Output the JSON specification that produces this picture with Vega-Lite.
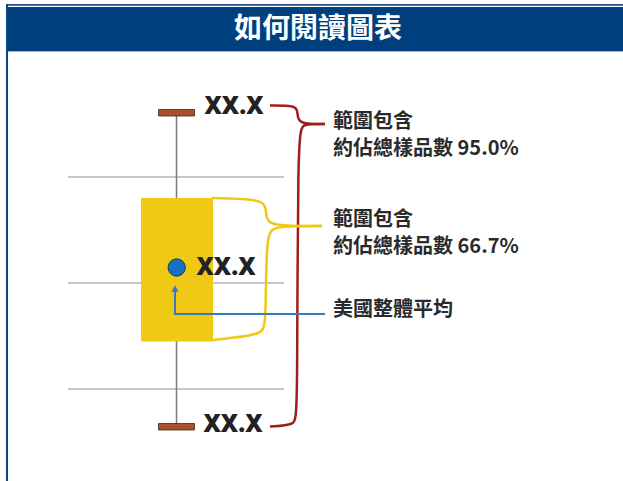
{
  "$schema": "https://vega.github.io/schema/vega-lite/v6.json",
  "width": 623,
  "height": 481,
  "autosize": {"type": "fit", "contains": "padding"},
  "padding": 0,
  "background": "white",
  "config": {"view": {"stroke": null}},
  "encoding": {
    "x": {"field": "x", "type": "quantitative", "scale": {"domain": [0, 623], "nice": false, "zero": false}, "axis": null},
    "y": {"field": "y", "type": "quantitative", "scale": {"domain": [0, 481], "nice": false, "zero": false, "reverse": true}, "axis": null}
  },
  "layer": [
    {
      "data": {"values": [{"part": "stripe", "x": 6, "x2": 623, "y": 4, "y2": 5.8}]},
      "mark": {"type": "rect", "fill": "#1f4f86"},
      "encoding": {"x2": {"field": "x2"}, "y2": {"field": "y2"}}
    },
    {
      "data": {"values": [{"part": "band", "x": 6, "x2": 623, "y": 7, "y2": 51}]},
      "mark": {"type": "rect", "fill": "#003f7d"},
      "encoding": {"x2": {"field": "x2"}, "y2": {"field": "y2"}}
    },
    {
      "data": {"values": [{"part": "bandedge", "x": 6, "x2": 623, "y": 51, "y2": 52}]},
      "mark": {"type": "rect", "fill": "#9fb6d6"},
      "encoding": {"x2": {"field": "x2"}, "y2": {"field": "y2"}}
    },
    {
      "data": {"values": [{"part": "border", "x": 6, "x2": 8, "y": 4, "y2": 481}]},
      "mark": {"type": "rect", "fill": "#0a4582"},
      "encoding": {"x2": {"field": "x2"}, "y2": {"field": "y2"}}
    },
    {
      "data": {"values": [{"label": "如何閱讀圖表", "x": 318, "y": 29.5}]},
      "mark": {"type": "text", "font": "Noto Sans CJK TC", "fontWeight": "bold", "fontSize": 28, "color": "white", "align": "center", "baseline": "middle"},
      "encoding": {"text": {"field": "label"}}
    },
    {
      "data": {"values": [
        {"x": 68, "x2": 284, "y": 177},
        {"x": 68, "x2": 284, "y": 283},
        {"x": 68, "x2": 284, "y": 389}
      ]},
      "mark": {"type": "rule", "color": "#b3b3b3", "strokeWidth": 1.5},
      "encoding": {"x2": {"field": "x2"}}
    },
    {
      "data": {"values": [{"x": 176.5, "y": 112, "y2": 426}]},
      "mark": {"type": "rule", "color": "#7a7a7a", "strokeWidth": 1.5},
      "encoding": {"y2": {"field": "y2"}}
    },
    {
      "data": {"values": [{"x": 141, "x2": 213, "y": 198, "y2": 341.5}]},
      "mark": {"type": "rect", "fill": "#efc915"},
      "encoding": {"x2": {"field": "x2"}, "y2": {"field": "y2"}}
    },
    {
      "data": {"values": [
        {"x": 158.5, "x2": 194.5, "y": 109.5, "y2": 116},
        {"x": 158.5, "x2": 194.5, "y": 423.5, "y2": 430}
      ]},
      "mark": {"type": "rect", "fill": "#a9512a", "stroke": "#3a2a20", "strokeWidth": 0.8},
      "encoding": {"x2": {"field": "x2"}, "y2": {"field": "y2"}}
    },
    {
      "data": {"values": [
        {"seg": "r1", "i": 1, "x": 270, "y": 105.5},
        {"seg": "r1", "i": 2, "x": 291, "y": 105.5},
        {"seg": "r1", "i": 3, "x": 297.5, "y": 108},
        {"seg": "r1", "i": 4, "x": 297.5, "y": 118},
        {"seg": "r1", "i": 5, "x": 301, "y": 124},
        {"seg": "r1", "i": 6, "x": 325, "y": 124},
        {"seg": "r2", "i": 1, "x": 325, "y": 124},
        {"seg": "r2", "i": 2, "x": 303, "y": 124},
        {"seg": "r2", "i": 3, "x": 297.5, "y": 130},
        {"seg": "r2", "i": 4, "x": 297.5, "y": 416},
        {"seg": "r2", "i": 5, "x": 295, "y": 425},
        {"seg": "r2", "i": 6, "x": 270, "y": 426.5}
      ]},
      "mark": {"type": "line", "color": "#9e1d1d", "strokeWidth": 2.5, "interpolate": "basis"},
      "encoding": {"detail": {"field": "seg"}, "order": {"field": "i", "type": "quantitative"}}
    },
    {
      "data": {"values": [
        {"seg": "y1", "i": 1, "x": 212, "y": 198},
        {"seg": "y1", "i": 2, "x": 256, "y": 199},
        {"seg": "y1", "i": 3, "x": 266, "y": 204},
        {"seg": "y1", "i": 4, "x": 266, "y": 218},
        {"seg": "y1", "i": 5, "x": 271, "y": 226},
        {"seg": "y1", "i": 6, "x": 322, "y": 226},
        {"seg": "y2", "i": 1, "x": 322, "y": 226},
        {"seg": "y2", "i": 2, "x": 274, "y": 226},
        {"seg": "y2", "i": 3, "x": 266, "y": 233},
        {"seg": "y2", "i": 4, "x": 266, "y": 326},
        {"seg": "y2", "i": 5, "x": 262, "y": 335},
        {"seg": "y2", "i": 6, "x": 212, "y": 340}
      ]},
      "mark": {"type": "line", "color": "#f0c814", "strokeWidth": 2.5, "interpolate": "basis"},
      "encoding": {"detail": {"field": "seg"}, "order": {"field": "i", "type": "quantitative"}}
    },
    {
      "data": {"values": [
        {"i": 1, "x": 325, "y": 314},
        {"i": 2, "x": 175, "y": 314},
        {"i": 3, "x": 175, "y": 290}
      ]},
      "mark": {"type": "line", "color": "#3a7bc0", "strokeWidth": 2},
      "encoding": {"order": {"field": "i", "type": "quantitative"}}
    },
    {
      "data": {"values": [{"x": 175, "y": 288.5}]},
      "mark": {"type": "point", "shape": "triangle-up", "filled": true, "size": 55, "color": "#3a7bc0", "opacity": 1}
    },
    {
      "data": {"values": [{"x": 176.7, "y": 267.5}]},
      "mark": {"type": "point", "shape": "circle", "filled": true, "size": 300, "fill": "#1670c4", "stroke": "#1d3553", "strokeWidth": 1, "opacity": 1}
    },
    {
      "data": {"values": [
        {"label": "XX.X", "x": 204.5, "y": 106.5},
        {"label": "XX.X", "x": 196.5, "y": 267.5},
        {"label": "XX.X", "x": 203.5, "y": 424.5}
      ]},
      "mark": {"type": "text", "font": "Open Sans", "fontWeight": 800, "fontSize": 24, "color": "#222222", "align": "left", "baseline": "middle"},
      "encoding": {"text": {"field": "label"}}
    },
    {
      "data": {"values": [
        {"label": "範圍包含", "x": 333, "y": 122},
        {"label": "約佔總樣品數 95.0%", "x": 333, "y": 148.7},
        {"label": "範圍包含", "x": 333, "y": 219.8},
        {"label": "約佔總樣品數 66.7%", "x": 333, "y": 246.5},
        {"label": "美國整體平均", "x": 333, "y": 309.5}
      ]},
      "mark": {"type": "text", "font": "Noto Sans CJK TC", "fontWeight": "bold", "fontSize": 20, "color": "#2a2a2a", "align": "left", "baseline": "middle"},
      "encoding": {"text": {"field": "label"}}
    }
  ]
}
